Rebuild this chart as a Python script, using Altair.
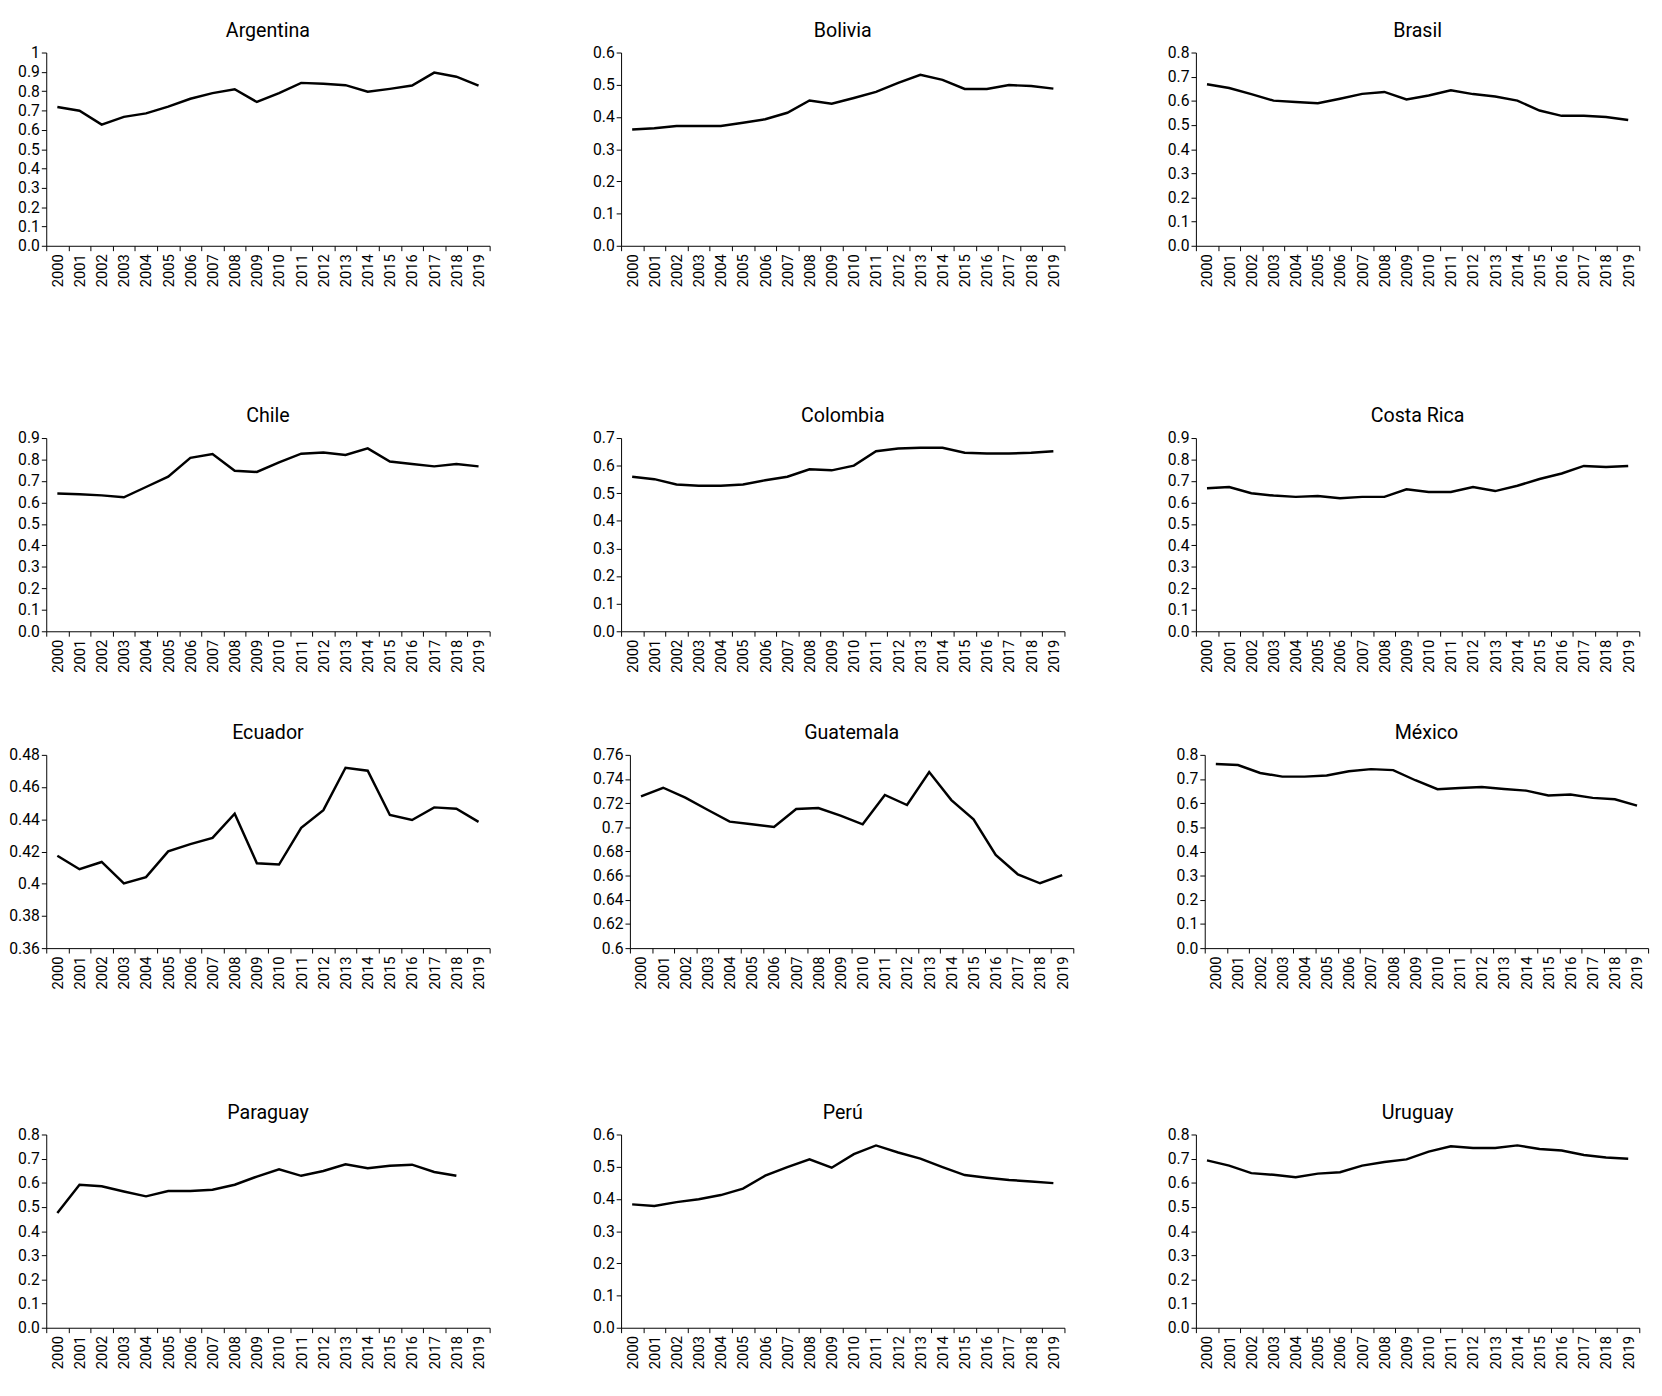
import altair as alt
import pandas as pd

FONT = "Roboto"

YEARS = ["2000", "2001", "2002", "2003", "2004", "2005", "2006", "2007", "2008", "2009",
         "2010", "2011", "2012", "2013", "2014", "2015", "2016", "2017", "2018", "2019"]

ARGENTINA = [0.718, 0.699, 0.627, 0.667, 0.685, 0.720, 0.761, 0.790, 0.810, 0.744,
             0.790, 0.843, 0.838, 0.831, 0.797, 0.812, 0.829, 0.896, 0.875, 0.829]
BOLIVIA = [0.361, 0.365, 0.372, 0.372, 0.372, 0.382, 0.393, 0.413, 0.451, 0.441,
           0.459, 0.478, 0.506, 0.531, 0.515, 0.487, 0.487, 0.499, 0.496, 0.488]
BRASIL = [0.669, 0.653, 0.628, 0.601, 0.595, 0.590, 0.609, 0.629, 0.637, 0.606,
          0.622, 0.644, 0.628, 0.618, 0.601, 0.560, 0.538, 0.538, 0.533, 0.521]
CHILE = [0.642, 0.638, 0.633, 0.624, 0.672, 0.720, 0.808, 0.826, 0.748, 0.742,
         0.787, 0.827, 0.833, 0.821, 0.852, 0.791, 0.779, 0.768, 0.779, 0.768]
COLOMBIA = [0.560, 0.551, 0.532, 0.527, 0.527, 0.532, 0.547, 0.560, 0.587, 0.583,
            0.600, 0.652, 0.662, 0.665, 0.665, 0.647, 0.644, 0.644, 0.647, 0.652]
COSTA_RICA = [0.666, 0.672, 0.643, 0.632, 0.626, 0.630, 0.620, 0.626, 0.626, 0.661,
              0.649, 0.649, 0.672, 0.653, 0.678, 0.709, 0.735, 0.770, 0.765, 0.770]
ECUADOR = [0.4174, 0.4090, 0.4135, 0.4002, 0.4041, 0.4201, 0.4246, 0.4285, 0.4435, 0.4127,
           0.4119, 0.4347, 0.4457, 0.4720, 0.4702, 0.4427, 0.4396, 0.4474, 0.4466, 0.4384]
GUATEMALA = [0.7257, 0.7328, 0.7246, 0.7146, 0.7047, 0.7025, 0.7003, 0.7152, 0.7160, 0.7097,
             0.7025, 0.7268, 0.7185, 0.7458, 0.7226, 0.7066, 0.6771, 0.6611, 0.6537, 0.6605]
MEXICO = [0.762, 0.758, 0.725, 0.710, 0.710, 0.715, 0.732, 0.741, 0.737, 0.695,
          0.658, 0.663, 0.667, 0.659, 0.652, 0.632, 0.636, 0.622, 0.616, 0.590]
PARAGUAY = [0.475, 0.592, 0.586, 0.564, 0.544, 0.566, 0.566, 0.571, 0.592, 0.626,
            0.656, 0.629, 0.649, 0.677, 0.660, 0.671, 0.675, 0.645, 0.629, None]
PERU = [0.383, 0.378, 0.390, 0.399, 0.412, 0.432, 0.472, 0.499, 0.523, 0.497,
        0.539, 0.566, 0.544, 0.525, 0.499, 0.474, 0.466, 0.459, 0.454, 0.449]
URUGUAY = [0.693, 0.671, 0.640, 0.633, 0.623, 0.638, 0.644, 0.671, 0.686, 0.697,
           0.729, 0.751, 0.744, 0.744, 0.755, 0.740, 0.734, 0.715, 0.705, 0.700]

TICKS_10 = [0.0, 0.1, 0.2, 0.3, 0.4, 0.5, 0.6, 0.7, 0.8, 0.9, 1.0]
TICKS_09 = [0.0, 0.1, 0.2, 0.3, 0.4, 0.5, 0.6, 0.7, 0.8, 0.9]
TICKS_08 = [0.0, 0.1, 0.2, 0.3, 0.4, 0.5, 0.6, 0.7, 0.8]
TICKS_07 = [0.0, 0.1, 0.2, 0.3, 0.4, 0.5, 0.6, 0.7]
TICKS_06 = [0.0, 0.1, 0.2, 0.3, 0.4, 0.5, 0.6]
TICKS_EC = [0.36, 0.38, 0.40, 0.42, 0.44, 0.46, 0.48]
TICKS_GT = [0.60, 0.62, 0.64, 0.66, 0.68, 0.70, 0.72, 0.74, 0.76]

FMT_1F = "format(datum.value, '.1f')"
FMT_ARG = "datum.value >= 1 ? '1' : format(datum.value, '.1f')"
FMT_G = "format(datum.value, '~g')"

PANELS = [
    ("Argentina", ARGENTINA, [0.0, 1.0], TICKS_10, FMT_ARG),
    ("Bolivia", BOLIVIA, [0.0, 0.6], TICKS_06, FMT_1F),
    ("Brasil", BRASIL, [0.0, 0.8], TICKS_08, FMT_1F),
    ("Chile", CHILE, [0.0, 0.9], TICKS_09, FMT_1F),
    ("Colombia", COLOMBIA, [0.0, 0.7], TICKS_07, FMT_1F),
    ("Costa Rica", COSTA_RICA, [0.0, 0.9], TICKS_09, FMT_1F),
    ("Ecuador", ECUADOR, [0.36, 0.48], TICKS_EC, FMT_G),
    ("Guatemala", GUATEMALA, [0.60, 0.76], TICKS_GT, FMT_G),
    ("México", MEXICO, [0.0, 0.8], TICKS_08, FMT_1F),
    ("Paraguay", PARAGUAY, [0.0, 0.8], TICKS_08, FMT_1F),
    ("Perú", PERU, [0.0, 0.6], TICKS_06, FMT_1F),
    ("Uruguay", URUGUAY, [0.0, 0.8], TICKS_08, FMT_1F),
]


def panel(name, values, domain, ticks, fmt):
    df = pd.DataFrame({"year": YEARS, "value": values})
    return (
        alt.Chart(df, title=alt.TitleParams(name))
        .mark_line(color="black", strokeWidth=2.5)
        .encode(
            x=alt.X(
                "year:O",
                bandPosition=0.5,
                scale=alt.Scale(type="band", domain=YEARS, paddingInner=0, paddingOuter=0),
                axis=alt.Axis(title=None, labelAngle=270, tickBand="extent", labelPadding=3,
                              labelFontSize=15),
            ),
            y=alt.Y(
                "value:Q",
                scale=alt.Scale(domain=domain, nice=False, zero=False),
                axis=alt.Axis(title=None, values=ticks, labelExpr=fmt, labelPadding=2,
                              labelFontSize=16),
            ),
        )
        .properties(width=452, height=197)
    )


charts = [panel(*p) for p in PANELS]
rows = [alt.hconcat(*charts[i:i + 3], spacing=103) for i in range(0, 12, 3)]

chart = (
    alt.vconcat(
        alt.vconcat(rows[0], rows[1], spacing=122),
        alt.vconcat(rows[2], rows[3], spacing=116),
        spacing=52,
    )
    .properties(padding={"left": 0, "top": 0, "right": 5, "bottom": 5})
    .configure_view(stroke=None)
    .configure_axis(
        domainColor="black",
        tickColor="black",
        labelColor="black",
        grid=False,
        labelFont=FONT,
        tickSize=5,
        domainWidth=1,
        tickWidth=1,
    )
    .configure_title(
        font=FONT,
        fontSize=20,
        fontWeight="normal",
        color="black",
        anchor="middle",
        offset=4,
    )
)

chart.save("out.html", embed_options={"renderer": "svg", "actions": False})
